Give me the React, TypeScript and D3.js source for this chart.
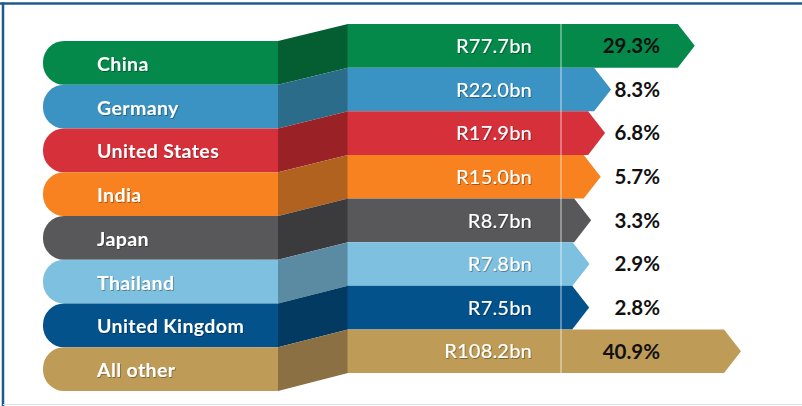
import React from "react";
import * as d3 from "d3";

const countries = ["China", "Germany", "United States", "India", "Japan", "Thailand", "United Kingdom", "All other"];
const amountsBn = [77.7, 22.0, 17.9, 15.0, 8.7, 7.8, 7.5, 108.2];
const percents = [29.3, 8.3, 6.8, 5.7, 3.3, 2.9, 2.8, 40.9];
const mainColors = ["#05894A", "#3A93C2", "#D6303A", "#F7821F", "#58585A", "#7EC0DF", "#03528C", "#BF9B58"];
const sideColors = ["#045E31", "#2B6C8B", "#9A2125", "#B2621F", "#3B3B3D", "#5B8BA3", "#033A62", "#8A7043"];

const W = 802;
const H = 406;

export default function App() {
  const yLeft = d3.scaleBand<string>().domain(countries).range([41, 391]).padding(0);
  const yRight = d3.scaleBand<string>().domain(countries).range([24, 373]).padding(0);
  const xTip = d3.scaleLinear().domain([0, d3.max(percents) as number]).range([578, 741]);

  const pillX0 = 43;
  const pillX1 = 278;
  const barX0 = 348;
  const radius = 21;
  const pointDepth = 17;
  const sepX = 561;
  const font = "Lato, 'Open Sans', sans-serif";

  return (
    <svg width={W} height={H} style={{ position: "absolute", left: 0, top: 0, background: "#fff" }}>
      <defs>
        <filter id="ts" x="-10%" y="-30%" width="130%" height="170%">
          <feDropShadow dx="0.8" dy="1" stdDeviation="0.7" floodColor="#000" floodOpacity="0.35" />
        </filter>
      </defs>
      {countries.map((c, i) => {
        const yl = yLeft(c) as number;
        const hl = yLeft.bandwidth();
        const yr = yRight(c) as number;
        const hr = yRight.bandwidth();
        const tip = xTip(percents[i]);
        const bodyEnd = tip - pointDepth;
        const pill = d3.path();
        pill.moveTo(pillX1, yl);
        pill.lineTo(pillX0 + radius, yl);
        pill.arcTo(pillX0, yl, pillX0, yl + radius, radius);
        pill.lineTo(pillX0, yl + hl - radius);
        pill.arcTo(pillX0, yl + hl, pillX0 + radius, yl + hl, radius);
        pill.lineTo(pillX1, yl + hl);
        pill.closePath();
        const side = `M${pillX1},${yl}L${barX0},${yr}L${barX0},${yr + hr}L${pillX1},${yl + hl}Z`;
        const arrow = `M${barX0 - 0.5},${yr}L${bodyEnd},${yr}L${tip},${yr + hr / 2}L${bodyEnd},${yr + hr}L${barX0 - 0.5},${yr + hr}Z`;
        return (
          <g key={c}>
            <path d={pill.toString()} fill={mainColors[i]} />
            <path d={side} fill={sideColors[i]} />
            <path d={arrow} fill={mainColors[i]} />
          </g>
        );
      })}
      <line x1={sepX} x2={sepX} y1={yRight.range()[0]} y2={yRight.range()[1]} stroke="#fff" strokeOpacity={0.6} strokeWidth={1.2} />
      {countries.map((c, i) => {
        const yl = (yLeft(c) as number) + yLeft.bandwidth() / 2;
        const yr = (yRight(c) as number) + yRight.bandwidth() / 2;
        return (
          <g key={"t" + c} fontFamily={font}>
            <text x={97} y={yl + 1} dy="0.36em" fill="#fff" fontSize={19.5} fontWeight={700} letterSpacing={0.4} filter="url(#ts)">
              {c}
            </text>
            <text x={532} y={yr} dy="0.36em" fill="#fff" fontSize={20} fontWeight={500} letterSpacing={0.2} textAnchor="end" filter="url(#ts)">
              {`R${amountsBn[i].toFixed(1)}bn`}
            </text>
            <text x={660} y={yr} dy="0.36em" fill="#111" fontSize={20.5} fontWeight={700} textAnchor="end">
              {`${percents[i].toFixed(1)}%`}
            </text>
          </g>
        );
      })}
      <line x1={0} x2={W} y1={3.5} y2={3.5} stroke="#1D5A8E" strokeWidth={2.5} />
      <line x1={3} x2={3} y1={2.5} y2={H} stroke="#1D5A8E" strokeWidth={2.5} />
      <line x1={3} x2={W} y1={404.5} y2={404.5} stroke="#D4E6F0" strokeWidth={1} />
    </svg>
  );
}
